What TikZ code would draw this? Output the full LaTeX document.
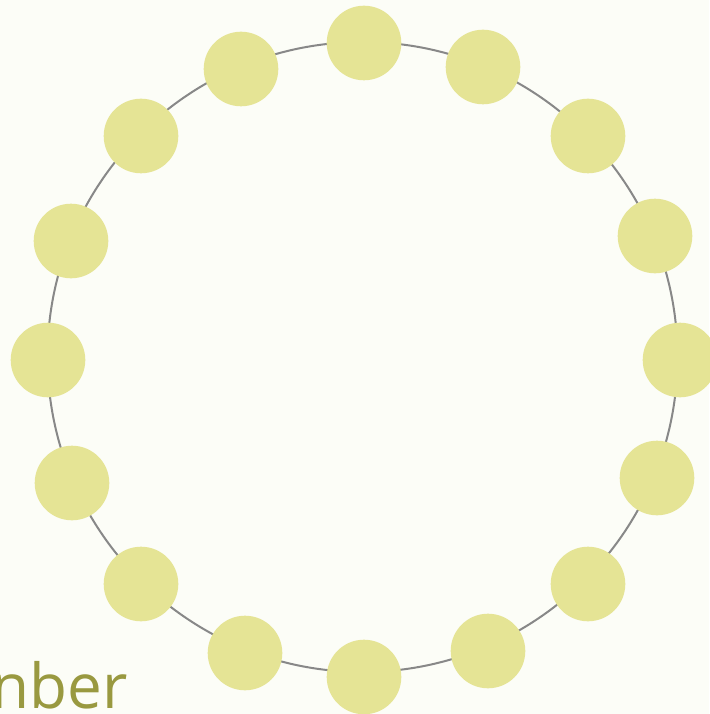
\documentclass[tikz,border=0pt]{standalone}
\usepackage{fontspec}
\setmainfont{Open Sans}
\usetikzlibrary{positioning}
\definecolor{paper}{HTML}{FCFDF7}
\definecolor{bead}{HTML}{E5E495}
\definecolor{ring}{HTML}{888888}
\definecolor{label}{HTML}{999940}

\begin{document}
\begin{tikzpicture}[x=1pt, y=-1pt,
    bead/.style={circle, fill=bead, draw=none, minimum size=74.6pt, inner sep=0pt},
    ring/.style={draw=ring, line width=2pt},
    caption/.style={text=label, font=\fontsize{62}{62}\selectfont, inner sep=0pt}
  ]
    % Background and bounding box
    \fill[paper] (0,0) rectangle (709,714);
    \useasboundingbox (0,0) rectangle (709,714);

    % Ring
    \draw[ring] (362.5,357) circle (315);

    % Beads
    \foreach \i/\px/\py in {1/364/43, 2/483/67, 3/588/136, 4/655/236,
                            5/680/360, 6/657/478, 7/588/584, 8/488/651,
                            9/364/677, 10/245/653, 11/141/584, 12/72/483,
                            13/48/360, 14/71/241, 15/141/136, 16/241/69}
      \node[bead] (b\i) at (\px,\py) {};

    % Caption
    \node[caption, anchor=base east] (word) at (128,708) {nber};
\end{tikzpicture}
\end{document}
